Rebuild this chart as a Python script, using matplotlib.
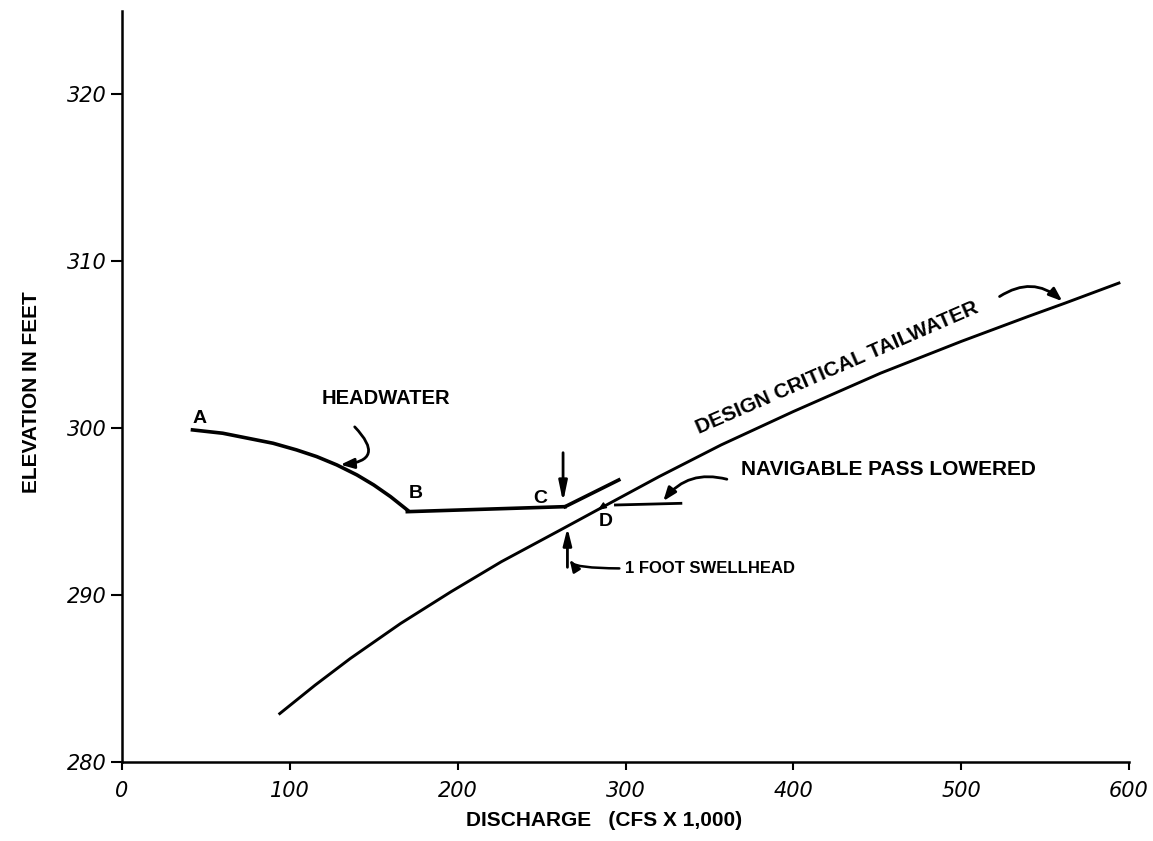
import matplotlib
matplotlib.use("Agg")
import matplotlib.pyplot as plt

# ---- data ----
headwater_x = [42, 60, 75, 90, 104, 116, 128, 140, 150, 160, 170]
headwater_y = [299.9, 299.7, 299.4, 299.1, 298.7, 298.3, 297.8, 297.2, 296.6, 295.9, 295.1]

pool_x = [170, 264]          # B -> C
pool_y = [295.0, 295.3]

swell_x = [264, 296]         # C -> upper end
swell_y = [295.3, 296.9]

tail_x = [94, 115, 136, 166, 196, 226, 263, 285, 320, 357, 400, 452, 500, 540, 562, 594]
tail_y = [282.9, 284.6, 286.2, 288.3, 290.2, 292.0, 294.0, 295.2, 297.1, 299.0,
          301.0, 303.3, 305.2, 306.7, 307.5, 308.7]

nav_x = [294, 333]
nav_y = [295.4, 295.5]

x_ticks = [0, 100, 200, 300, 400, 500, 600]
y_ticks = [280, 290, 300, 310, 320]
x_labels = ["0", "100", "200", "300", "400", "500", "600"]
y_labels = ["280", "290", "300", "310", "320"]

W, H = 1153, 841
fig = plt.figure(figsize=(W / 100, H / 100), dpi=100)
ax = fig.add_axes([122 / W, 1 - 762 / H, 1007 / W, 751 / H])
ax.set_xlim(0, 600)
ax.set_ylim(280, 325)

for s in ["top", "right"]:
    ax.spines[s].set_visible(False)
for s in ["left", "bottom"]:
    ax.spines[s].set_linewidth(1.8)

ax.set_xticks(x_ticks)
ax.set_xticklabels(x_labels, fontsize=15, fontstyle="italic")
ax.set_yticks(y_ticks)
ax.set_yticklabels(y_labels, fontsize=15, fontstyle="italic")
ax.tick_params(axis="x", direction="out", length=6, width=1.5, pad=8)
ax.tick_params(axis="y", direction="out", length=8, width=1.5, pad=3)

ax.plot(headwater_x, headwater_y, color="black", lw=2.6, solid_joinstyle="round")
ax.plot(pool_x, pool_y, color="black", lw=2.6)
ax.plot(swell_x, swell_y, color="black", lw=2.6)
ax.plot(tail_x, tail_y, color="black", lw=2.1, solid_joinstyle="round")
ax.plot(nav_x, nav_y, color="black", lw=2.0)

font = dict(family="Liberation Sans", color="black", fontweight="bold")

# point letters
ax.text(46.5, 300.6, "A", fontsize=14, ha="center", va="center", **font)
ax.text(175, 296.1, "B", fontsize=14, ha="center", va="center", **font)
ax.text(249.5, 295.8, "C", fontsize=14, ha="center", va="center", **font)
ax.text(288.4, 294.4, "D", fontsize=14, ha="center", va="center", **font)

# headwater label
ax.text(157, 301.8, "HEADWATER", fontsize=14.5, ha="center", va="center", **font)
ax.annotate("", xy=(128.5, 297.8), xytext=(137.5, 300.2),
            arrowprops=dict(arrowstyle="-|>,head_length=0.8,head_width=0.3",
                            color="black", lw=2.0,
                            connectionstyle="arc3,rad=-1.1"))

# navigable pass lowered
ax.text(369, 297.5, "NAVIGABLE PASS LOWERED", fontsize=15, ha="left", va="center", **font)
ax.annotate("", xy=(321.5, 295.5), xytext=(362, 296.9),
            arrowprops=dict(arrowstyle="-|>,head_length=0.8,head_width=0.3",
                            color="black", lw=2.0,
                            connectionstyle="arc3,rad=0.35"))

# design critical tailwater
ax.text(426, 303.6, "DESIGN CRITICAL TAILWATER", fontsize=15, rotation=23.5,
        ha="center", va="center", rotation_mode="anchor", **font)
ax.annotate("", xy=(561.5, 307.5), xytext=(521.5, 307.8),
            arrowprops=dict(arrowstyle="-|>,head_length=0.8,head_width=0.3",
                            color="black", lw=2.0,
                            connectionstyle="arc3,rad=-0.4"))

# swellhead arrows
ax.annotate("", xy=(262.8, 295.4), xytext=(262.8, 298.7),
            arrowprops=dict(arrowstyle="-|>,head_length=1.2,head_width=0.25",
                            color="black", lw=2.0))
ax.annotate("", xy=(265.4, 294.2), xytext=(265.4, 291.5),
            arrowprops=dict(arrowstyle="-|>,head_length=1.0,head_width=0.25",
                            color="black", lw=2.0))
ax.annotate("", xy=(266.2, 292.3), xytext=(298, 291.6),
            arrowprops=dict(arrowstyle="-|>,head_length=0.7,head_width=0.25",
                            color="black", lw=1.8,
                            connectionstyle="angle3,angleA=0,angleB=90"))
ax.text(299.5, 291.6, "1 FOOT SWELLHEAD", fontsize=12, ha="left", va="center", **font)

# small pointer on the tailwater near D
ax.annotate("", xy=(282, 295.0), xytext=(288, 295.4),
            arrowprops=dict(arrowstyle="-|>,head_length=0.5,head_width=0.2",
                            color="black", lw=1.0))

fig.text(32 / W, 1 - 392 / H, "ELEVATION IN FEET", rotation=90, fontsize=15,
         ha="center", va="center", **font)
fig.text(604 / W, 1 - 820 / H, "DISCHARGE   (CFS X 1,000)", fontsize=15,
         ha="center", va="center", **font)

fig.savefig("out.png", dpi=100)
